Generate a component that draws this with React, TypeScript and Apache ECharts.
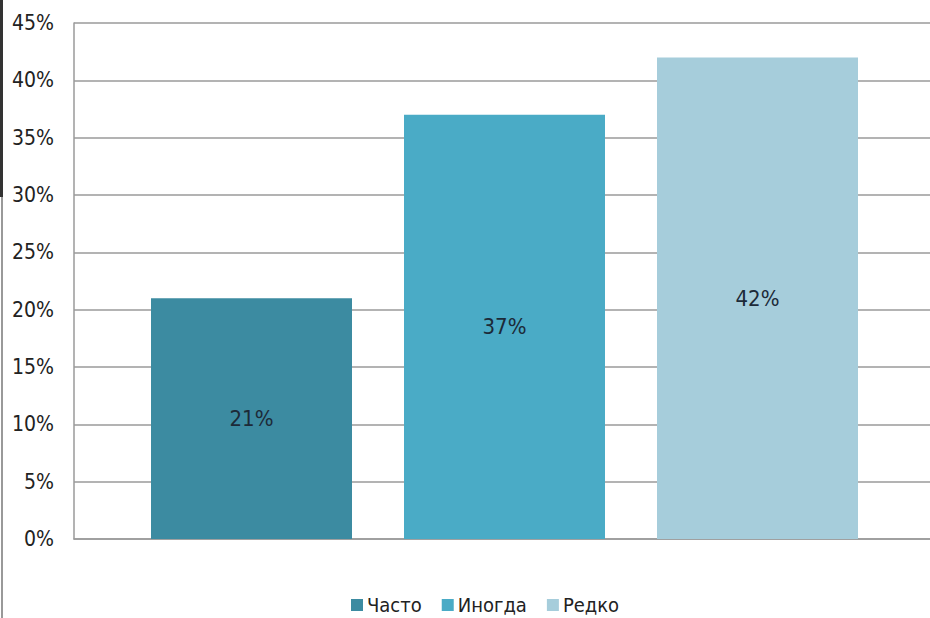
import React, { useEffect, useRef } from "react";
import * as echarts from "echarts";

const categories = ["Часто", "Иногда", "Редко"];
const values = [21, 37, 42];
const colors = ["#3c8ba1", "#4aabc6", "#a6cddb"];
const yTicks = { min: 0, max: 45, interval: 5 };

const FONT = "'Liberation Sans Narrow', 'DejaVu Sans Condensed', sans-serif";

export default function App() {
  const ref = useRef<HTMLDivElement>(null);
  useEffect(() => {
    if (!ref.current) return;
    const chart = echarts.init(ref.current, null, { renderer: "svg" });
    const series = categories.map((name, i) => ({
      name,
      type: "bar",
      xAxisIndex: 1,
      yAxisIndex: 1,
      barWidth: 201,
      barGap: "-100%",
      data: categories.map((_, j) => (j === i ? values[i] : "-")),
      itemStyle: { color: colors[i] },
      label: {
        show: true,
        position: "inside",
        formatter: "{c}%",
        color: "#1c2a38",
        fontSize: 22,
        fontFamily: FONT,
      },
    }));
    chart.setOption({
      animation: false,
      backgroundColor: "#ffffff",
      grid: [
        { left: 74, right: 0, top: 23, bottom: 79 },
        { left: 125, width: 759, top: 23, bottom: 79 },
      ],
      legend: {
        data: categories,
        bottom: -2,
        left: 346,
        icon: "rect",
        itemWidth: 12,
        itemHeight: 12,
        itemGap: 20,
        textStyle: { fontSize: 20, color: "#222", fontFamily: FONT, padding: [0, 0, 0, -1] },
      },
      xAxis: [
        {
          type: "category",
          gridIndex: 0,
          data: categories,
          axisLine: { show: true, lineStyle: { color: "#9a9a9a", width: 1.5 } },
          axisTick: { show: false },
          axisLabel: { show: false },
        },
        {
          type: "category",
          gridIndex: 1,
          data: categories,
          axisLine: { show: false },
          axisTick: { show: false },
          axisLabel: { show: false },
        },
      ],
      yAxis: [
        {
          type: "value",
          gridIndex: 0,
          min: yTicks.min,
          max: yTicks.max,
          interval: yTicks.interval,
          axisLine: { show: true, lineStyle: { color: "#9a9a9a", width: 1.5 } },
          axisTick: { show: false },
          axisLabel: {
            formatter: "{value}%",
            fontSize: 21,
            color: "#222",
            fontFamily: FONT,
            margin: 20,
          },
          splitLine: { show: true, lineStyle: { color: "#9a9a9a", width: 1.5 } },
        },
        {
          type: "value",
          gridIndex: 1,
          min: yTicks.min,
          max: yTicks.max,
          interval: yTicks.interval,
          show: false,
          splitLine: { show: false },
        },
      ],
      graphic: [
        { type: "rect", left: 0, top: 0, shape: { width: 3, height: 197 }, style: { fill: "#333" } },
        { type: "rect", left: 1, top: 197, shape: { width: 2, height: 421 }, style: { fill: "#999" } },
      ],
      series,
    });
    return () => chart.dispose();
  }, []);
  return (
    <div
      ref={ref}
      style={{ position: "absolute", left: 0, top: 0, width: 930, height: 618 }}
    />
  );
}
